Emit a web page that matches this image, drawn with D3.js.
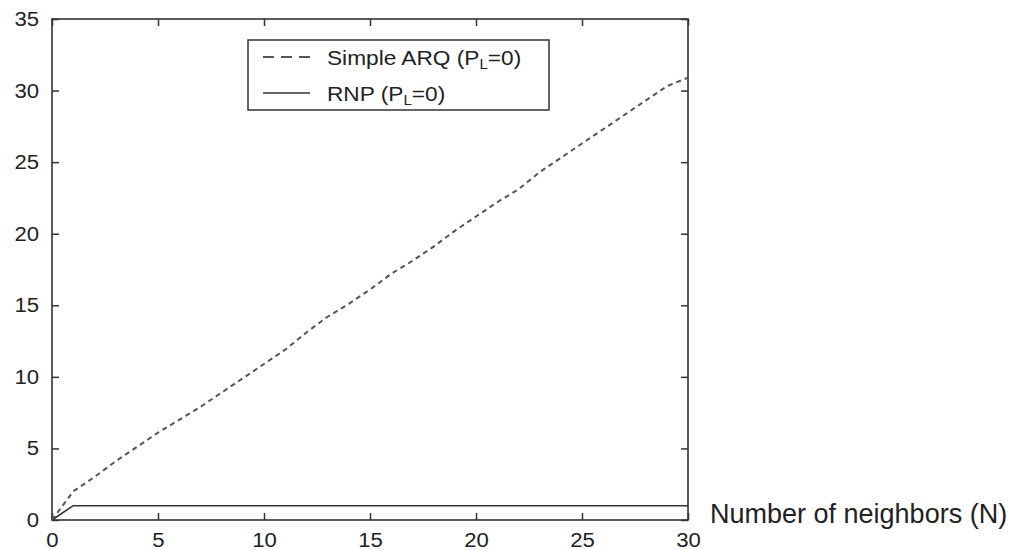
<!DOCTYPE html>
<html>
<head>
<meta charset="utf-8">
<script src="https://cdn.jsdelivr.net/npm/d3@7"></script>
<style>
  html, body { margin: 0; padding: 0; background: #fff; }
  svg text { font-family: "Liberation Sans", Arial, Helvetica, sans-serif; fill: #222; }
</style>
</head>
<body>
<svg id="chart" width="1015" height="550"></svg>
<script>
// Number of neighbors on the x axis
const neighbors = d3.range(0, 31);
// Simple ARQ with no loss (P_L = 0)
const simpleArq = [0, 2.0, 3.0, 4.1, 5.1, 6.1, 7.0, 7.9, 8.9, 9.9, 10.9,
                   11.9, 13.1, 14.2, 15.1, 16.1, 17.2, 18.1, 19.1, 20.2, 21.2,
                   22.2, 23.1, 24.3, 25.3, 26.3, 27.3, 28.3, 29.3, 30.3, 30.9];
// RNP with no loss (P_L = 0)
const rnp = [0, 1, 1, 1, 1, 1, 1, 1, 1, 1, 1,
             1, 1, 1, 1, 1, 1, 1, 1, 1, 1,
             1, 1, 1, 1, 1, 1, 1, 1, 1, 1];
const xTicks = [0, 5, 10, 15, 20, 25, 30];
const yTicks = [0, 5, 10, 15, 20, 25, 30, 35];
const legendItems = [
  { name: "Simple ARQ", dash: "5,4", sampleDash: "11,7" },
  { name: "RNP", dash: null, sampleDash: null }
];

const svg = d3.select("#chart");
const plotLeft = 52, plotRight = 688, plotTop = 19, plotBottom = 520;

const x = d3.scaleLinear().domain([0, 30]).range([plotLeft, plotRight]);
const y = d3.scaleLinear().domain([0, 35]).range([plotBottom, plotTop]);

const ink = "#333";
const textScale = 1.08;

// Frame
svg.append("rect")
  .attr("x", plotLeft).attr("y", plotTop)
  .attr("width", plotRight - plotLeft).attr("height", plotBottom - plotTop)
  .attr("fill", "none").attr("stroke", ink).attr("stroke-width", 1.6);

// Axes with inward ticks on all four sides
const tickLen = 7;
const gBottom = svg.append("g").attr("transform", `translate(0,${plotBottom})`)
  .call(d3.axisBottom(x).tickValues(xTicks).tickSizeInner(-tickLen).tickSizeOuter(0).tickPadding(12));
const gTop = svg.append("g").attr("transform", `translate(0,${plotTop})`)
  .call(d3.axisTop(x).tickValues(xTicks).tickSizeInner(-tickLen).tickSizeOuter(0).tickFormat(""));
const gLeft = svg.append("g").attr("transform", `translate(${plotLeft},0)`)
  .call(d3.axisLeft(y).tickValues(yTicks).tickSizeInner(-tickLen).tickSizeOuter(0).tickPadding(20));
const gRight = svg.append("g").attr("transform", `translate(${plotRight},0)`)
  .call(d3.axisRight(y).tickValues(yTicks).tickSizeInner(-tickLen).tickSizeOuter(0).tickFormat(""));

[gBottom, gTop, gLeft, gRight].forEach(g => {
  g.select(".domain").remove();
  g.selectAll(".tick line").attr("stroke", ink).attr("stroke-width", 1.5);
});
[gBottom, gLeft].forEach(g => {
  g.selectAll(".tick text")
    .attr("font-size", 20.5)
    .attr("fill", "#222")
    .attr("font-family", '"Liberation Sans", Arial, sans-serif');
});
gBottom.selectAll(".tick text").attr("transform", `scale(${textScale},1)`);
gLeft.selectAll(".tick text")
  .attr("x", -13 / textScale)
  .attr("transform", `scale(${textScale},1)`);

// Axis title
svg.append("text")
  .attr("x", 710).attr("y", 523)
  .attr("font-size", 27)
  .text("Number of neighbors (N)");

// Series
const line = d3.line().x((d, i) => x(neighbors[i])).y(d => y(d));

svg.append("path")
  .datum(rnp)
  .attr("d", line)
  .attr("fill", "none").attr("stroke", ink).attr("stroke-width", 1.6);

svg.append("path")
  .datum(simpleArq)
  .attr("d", line)
  .attr("fill", "none").attr("stroke", "#555").attr("stroke-width", 2)
  .attr("stroke-dasharray", legendItems[0].dash);

// Legend
const lg = svg.append("g");
lg.append("rect")
  .attr("x", 248).attr("y", 40).attr("width", 301).attr("height", 70)
  .attr("fill", "#fff").attr("stroke", ink).attr("stroke-width", 1.5);

legendItems.forEach((item, i) => {
  const cy = 57 + i * 36;
  lg.append("line")
    .attr("x1", 263).attr("x2", 310).attr("y1", cy).attr("y2", cy)
    .attr("stroke", i === 0 ? "#555" : ink)
    .attr("stroke-width", i === 0 ? 2 : 1.6)
    .attr("stroke-dasharray", item.sampleDash);
  const t = lg.append("text")
    .attr("transform", `translate(327,${cy + 8}) scale(${textScale},1)`)
    .attr("font-size", 21);
  t.append("tspan").text(item.name + " (P");
  t.append("tspan").attr("font-size", 14).attr("dy", 4).text("L");
  t.append("tspan").attr("dy", -4).text("=0)");
});
</script>
</body>
</html>
